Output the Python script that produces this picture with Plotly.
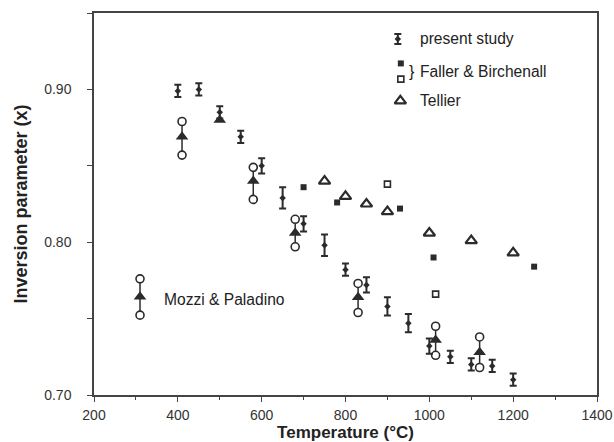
import plotly.graph_objects as go

# ---------------- data ----------------
# present study (with error bars)
ps_temp = [400, 450, 500, 550, 600, 650, 700, 750, 800, 850, 900, 950, 1000, 1050, 1100, 1150, 1200]
ps_inv = [0.899, 0.900, 0.885, 0.869, 0.850, 0.829, 0.812, 0.798, 0.782, 0.772, 0.758, 0.747,
          0.732, 0.725, 0.720, 0.719, 0.710]
ps_err = [0.004, 0.004, 0.004, 0.004, 0.005, 0.007, 0.005, 0.007, 0.004, 0.005, 0.006, 0.006,
          0.005, 0.004, 0.004, 0.004, 0.004]

# Faller & Birchenall (filled and open squares)
fb_filled_temp = [700, 780, 930, 1010, 1250]
fb_filled_inv = [0.836, 0.826, 0.822, 0.790, 0.784]
fb_open_temp = [900, 1015]
fb_open_inv = [0.838, 0.766]

# Tellier (open triangles)
tel_temp = [750, 800, 850, 900, 1000, 1100, 1200]
tel_inv = [0.840, 0.830, 0.825, 0.820, 0.806, 0.801, 0.793]

# Mozzi & Paladino (filled triangle, range shown by circles)
mp_temp = [410, 500, 580, 680, 830, 1015, 1120]
mp_inv = [0.869, 0.880, 0.840, 0.806, 0.764, 0.736, 0.728]
mp_low = [0.857, None, 0.828, 0.797, 0.754, 0.726, 0.718]
mp_high = [0.879, None, 0.849, 0.815, 0.773, 0.745, 0.738]

# axis ticks
x_ticks = [200, 400, 600, 800, 1000, 1200, 1400]
y_ticks = [0.70, 0.80, 0.90]

# ---------------- style ----------------
INK = "#2b2b2b"
FONT = "Liberation Sans, Arial, Helvetica, sans-serif"

# legend glyph placement (fractions of the plot area)
LEG = {
    "ps": (0.604, 0.932),
    "fb_filled": (0.610, 0.868),
    "fb_open": (0.610, 0.827),
    "tel": (0.609, 0.770),
    "mp": (0.0915, 0.257),
    "mp_hi": (0.0915, 0.304),
    "mp_lo": (0.0915, 0.209),
}

fig = go.Figure()

# Mozzi & Paladino connecting lines
mp_plus = [(h - v) if h is not None else 0 for h, v in zip(mp_high, mp_inv)]
mp_minus = [(v - l) if l is not None else 0 for l, v in zip(mp_low, mp_inv)]
fig.add_trace(go.Scatter(
    x=mp_temp, y=mp_inv, mode="markers",
    marker=dict(size=1, color="rgba(0,0,0,0)"),
    error_y=dict(type="data", array=mp_plus, arrayminus=mp_minus,
                 width=0, thickness=1.5, color=INK),
    showlegend=False, hoverinfo="skip"))

# circles (range ends)
circ_x, circ_y = [], []
for t, lo, hi in zip(mp_temp, mp_low, mp_high):
    if lo is not None:
        circ_x += [t, t]
        circ_y += [lo, hi]
fig.add_trace(go.Scatter(
    x=circ_x, y=circ_y, mode="markers",
    marker=dict(symbol="circle", size=8, color="white", line=dict(color=INK, width=1.6)),
    showlegend=False))

# Tellier
fig.add_trace(go.Scatter(
    x=tel_temp, y=tel_inv, mode="markers",
    marker=dict(symbol="triangle-up-open", size=10, color=INK, line=dict(width=2.2)),
    showlegend=False))

# Faller & Birchenall
fig.add_trace(go.Scatter(
    x=fb_filled_temp, y=fb_filled_inv, mode="markers",
    marker=dict(symbol="square", size=6, color=INK),
    showlegend=False))
fig.add_trace(go.Scatter(
    x=fb_open_temp, y=fb_open_inv, mode="markers",
    marker=dict(symbol="square", size=6, color="white", line=dict(color=INK, width=1.6)),
    showlegend=False))

# present study
fig.add_trace(go.Scatter(
    x=ps_temp, y=ps_inv, mode="markers",
    marker=dict(symbol="diamond", size=5, color=INK),
    error_y=dict(type="data", array=ps_err, width=3.5, thickness=2, color=INK),
    showlegend=False))

# Mozzi triangles on top
fig.add_trace(go.Scatter(
    x=mp_temp, y=mp_inv, mode="markers",
    marker=dict(symbol="triangle-up", size=11, color=INK),
    showlegend=False))

# ---------------- legend glyphs on an overlay axis (0..1) ----------------
def leg(key, **kw):
    x, y = LEG[key]
    fig.add_trace(go.Scatter(x=[x], y=[y], xaxis="x2", yaxis="y2", mode="markers",
                             showlegend=False, hoverinfo="skip", **kw))

leg("ps", marker=dict(symbol="diamond", size=5, color=INK),
    error_y=dict(type="constant", value=0.013, width=3.5, thickness=2, color=INK))
leg("fb_filled", marker=dict(symbol="square", size=6, color=INK))
leg("fb_open", marker=dict(symbol="square", size=6, color="white", line=dict(color=INK, width=1.6)))
leg("tel", marker=dict(symbol="triangle-up-open", size=10, color=INK, line=dict(width=2.2)))
# Mozzi legend: line + circles + triangle
fig.add_trace(go.Scatter(x=[LEG["mp_lo"][0], LEG["mp_hi"][0]], y=[LEG["mp_lo"][1], LEG["mp_hi"][1]],
                         xaxis="x2", yaxis="y2", mode="lines+markers",
                         line=dict(color=INK, width=1.5),
                         marker=dict(symbol="circle", size=8, color="white", line=dict(color=INK, width=1.6)),
                         showlegend=False, hoverinfo="skip"))
leg("mp", marker=dict(symbol="triangle-up", size=11, color=INK))

def txt(x, y, s, size=15.6):
    fig.add_annotation(x=x, y=y, xref="paper", yref="paper", text=s, showarrow=False,
                       xanchor="left", yanchor="middle",
                       font=dict(family=FONT, size=size, color="#222"))

txt(0.644, 0.932, "present study")
txt(0.622, 0.848, "}", size=16)
txt(0.644, 0.848, "Faller & Birchenall")
txt(0.644, 0.770, "Tellier")
txt(0.135, 0.251, "Mozzi & Paladino")

# ---------------- layout ----------------
axis_common = dict(showline=True, linecolor="#444", linewidth=1.5, mirror=True,
                   ticks="outside", ticklen=5, tickwidth=1.2, tickcolor="#444",
                   showgrid=False, zeroline=False, automargin=False,
                   tickfont=dict(family=FONT, size=14, color="#333"))

fig.update_layout(
    width=614, height=442,
    margin=dict(l=94, r=17, t=13, b=47),
    paper_bgcolor="white", plot_bgcolor="white",
    showlegend=False,
    xaxis=dict(range=[200, 1400], tickvals=x_ticks,
               ticktext=[str(v) for v in x_ticks],
               ticklabelstandoff=1,
               minor=dict(dtick=100, ticks="outside", ticklen=3, tickcolor="#444"),
               title=dict(text="<b>Temperature (°C)</b>", standoff=1,
                          font=dict(family=FONT, size=17, color="#222")),
               **axis_common),
    yaxis=dict(range=[0.70, 0.95], tickvals=y_ticks,
               ticktext=[f"{v:.2f}" for v in y_ticks],
               ticklabelstandoff=13,
               minor=dict(dtick=0.05, ticks="outside", ticklen=5, tickcolor="#444"),
               title=dict(text="<b>Inversion parameter (x)</b>", standoff=12,
                          font=dict(family=FONT, size=18, color="#222")),
               **axis_common),
    xaxis2=dict(overlaying="x", range=[0, 1], visible=False, anchor="y2"),
    yaxis2=dict(overlaying="y", range=[0, 1], visible=False, anchor="x2"),
)

fig.write_html("out.html", config={"displayModeBar": False})

# remove the browser's default page margin so the figure sits at the window's corner
with open("out.html", "r", encoding="utf-8") as f:
    page = f.read()
page = page.replace("<body>", '<body style="margin:0;padding:0;">', 1)
page = page.replace("<head>", "<head><style>html,body{margin:0;padding:0;}</style>", 1)
with open("out.html", "w", encoding="utf-8") as f:
    f.write(page)
